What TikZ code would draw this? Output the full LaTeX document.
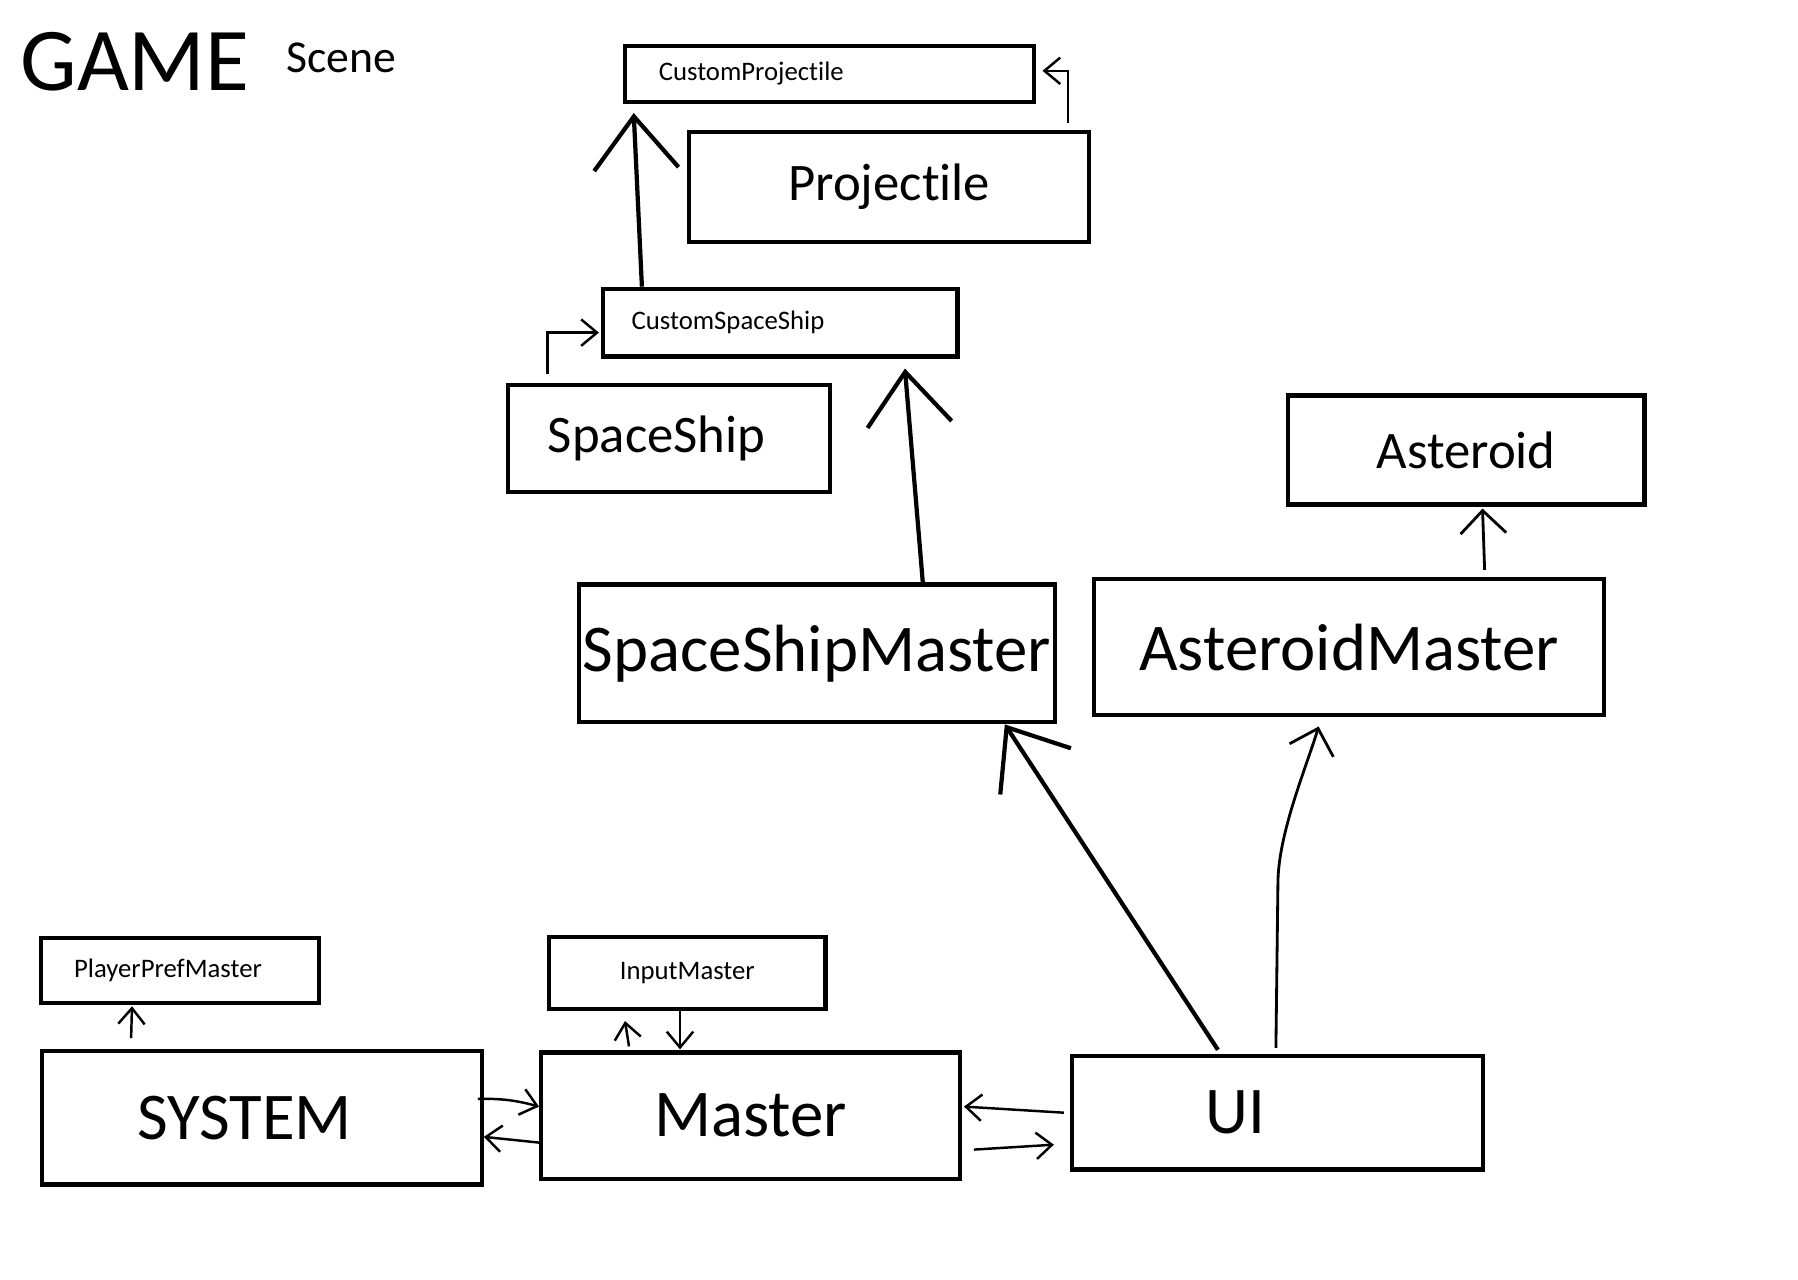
\documentclass[tikz,border=0pt]{standalone}
\usepackage{fontspec}
\setmainfont{Carlito}[Ligatures=NoCommon]
\usetikzlibrary{arrows.meta}
\tikzset{
  box/.style={draw, line width=1.2pt, anchor=north west, inner sep=0pt},
  lft/.style 2 args={align=left, inner xsep=#1, text width=#2},
  bigtxt/.style={font=\fontsize{19}{23}\selectfont},
  midtxt/.style={font=\fontsize{15}{18}\selectfont},
  smalltxt/.style={font=\fontsize{7.6}{9}\selectfont},
  fatarrow/.style={line width=1.2pt, -{Straight Barb[length=15pt,width=24pt]}},
  medarrow/.style={line width=.8pt, -{Straight Barb[length=6.5pt,width=13pt]}},
  thinarrow/.style={line width=.7pt, -{Straight Barb[length=4.5pt,width=7.5pt]}},
}
\begin{document}
\begin{tikzpicture}[x=.01cm, y=-.01cm]
  \useasboundingbox (0,0) rectangle (1798,1280);
  \node[anchor=base west, font=\fontsize{25.5}{30}\selectfont] (game) at (8,91) {GAME};
  \node[anchor=base west, font=\fontsize{13}{16}\selectfont] (scene) at (274,73) {Scene};
  \node[box, smalltxt, lft={.34cm}{3.413cm}, minimum height=.562cm] (cproj) at (622.7,43.6) {CustomProjectile};
  \node[box, midtxt, minimum width=4.001cm, minimum height=1.101cm] (proj) at (686.9,129.6) {Projectile};
  \node[box, smalltxt, lft={.286cm}{2.971cm}, minimum height=.676cm] (csship) at (600.9,286.7) {CustomSpaceShip};
  \node[box, midtxt, lft={.4cm}{2.422cm}, minimum height=1.066cm] (sship) at (505.7,383) {SpaceShip};
  \node[box, midtxt, minimum width=3.566cm, minimum height=1.09cm] (ast) at (1285.5,393.3) {Asteroid};
  \node[box, bigtxt, minimum width=4.759cm, minimum height=1.376cm] (ssm) at (576.8,582.5) {SpaceShipMaster};
  \node[box, bigtxt, minimum width=5.103cm, minimum height=1.364cm] (astm) at (1091.6,576.8) {AsteroidMaster};
  \node[box, smalltxt, lft={.33cm}{2.115cm}, minimum height=.653cm] (ppm) at (39,935.7) {PlayerPrefMaster};
  \node[box, smalltxt, minimum width=2.763cm, minimum height=.722cm] (im) at (547,934.6) {InputMaster};
  \node[box, bigtxt, lft={.95cm}{2.492cm}, minimum height=1.33cm] (sys) at (40.1,1049.2) {SYSTEM};
  \node[box, bigtxt, minimum width=4.185cm, minimum height=1.261cm] (master) at (539,1050.4) {Master};
  \node[box, bigtxt, lft={1.33cm}{1.445cm}, minimum height=1.135cm] (ui) at (1069.9,1053.8) {UI};
  \draw[fatarrow] ([shift={(41,0)}]csship.north west) -- ([shift={(11,9)}]cproj.south west);
  \draw[thinarrow] ([shift={(381,-7)}]proj.north west) |- ([shift={(6,-3)}]cproj.east);
  \draw[thinarrow] ([shift={(42,-9)}]sship.north west) |- ([shift={(-2,10)}]csship.west);
  \draw[fatarrow] ([shift={(346,0)}]ssm.north west) -- ([shift={(304,10)}]csship.south west);
  \draw[medarrow] ([shift={(393,-7)}]astm.north west) -- ([shift={(197,2)}]ast.south west);
  \draw[fatarrow] ([shift={(148,-4)}]ui.north west) -- ([shift={(428,0)}]ssm.south west);
  \draw[medarrow] ([shift={(206,-6)}]ui.north west) -- ++(2,-164) .. controls +(0,-50) and +(-12,40) .. ([shift={(227,9)}]astm.south west);
  \draw[thinarrow] ([shift={(91,-11)}]sys.north west) -- ([shift={(93,1)}]ppm.south west);
  \draw[thinarrow] ([shift={(133,0)}]im.south west) -- ([shift={(141,-1)}]master.north west);
  \draw[thinarrow] ([shift={(90,-4)}]master.north west) -- ([shift={(78,10)}]im.south west);
  \draw[thinarrow] ([shift={(-6,-19)}]sys.east) to[bend left=8] ([shift={(0,-9)}]master.west);
  \draw[thinarrow] ([shift={(0,27)}]master.west) -- ([shift={(0,19)}]sys.east);
  \draw[thinarrow] ([shift={(-6,0)}]ui.west) -- ([shift={(2,-9)}]master.east);
  \draw[thinarrow] ([shift={(12,34)}]master.east) -- ([shift={(-16,32)}]ui.west);
\end{tikzpicture}
\end{document}
